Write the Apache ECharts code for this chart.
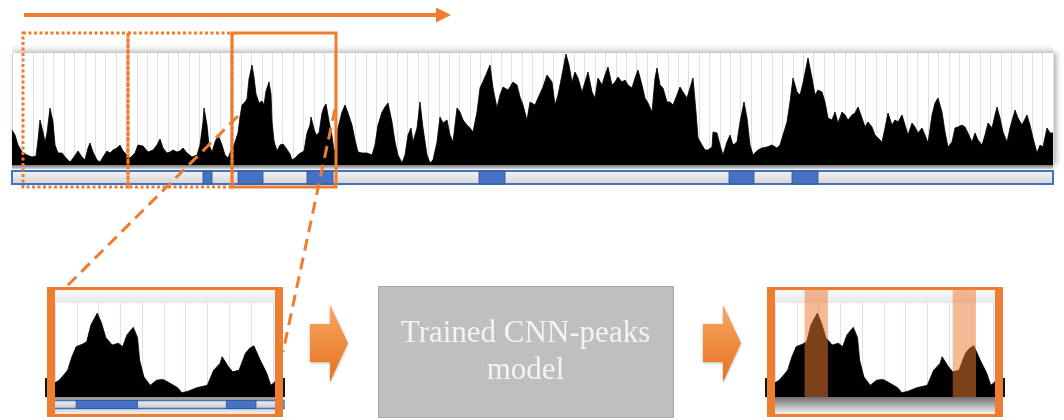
<!DOCTYPE html>
<html><head><meta charset="utf-8">
<script src="https://cdn.jsdelivr.net/npm/echarts@6/dist/echarts.min.js"></script>
<style>html,body{margin:0;padding:0;background:#fff}#c{width:1064px;height:420px}</style>
</head><body><div id="c"></div>
<script>
// signal profile: [position, coverage]
const profile = [
[12,35],[15,30],[18,20],[22,13],[27,10],[32,8],[36,9],[38,25],[40,45],[43,33],
[45,23],[47,32],[50,57],[53,43],[55,20],[58,12],[62,12],[66,7],[70,3],[74,8],
[78,14],[82,8],[85,5],[88,17],[90,22],[93,13],[97,5],[100,3],[103,8],[107,14],
[110,12],[113,15],[117,17],[120,20],[123,14],[127,10],[130,7],[135,12],[138,20],[143,19],
[148,13],[153,15],[157,20],[160,26],[163,17],[167,12],[170,13],[173,15],[177,13],[180,14],
[183,17],[187,12],[192,8],[197,10],[200,20],[203,43],[204,57],[207,40],[209,20],[212,13],
[215,23],[218,30],[222,20],[225,10],[228,7],[232,17],[234,20],[236,26],[238,32],[240,48],
[242,60],[245,63],[247,66],[249,86],[252,100],[254,88],[256,71],[259,62],[262,64],[264,60],
[266,74],[269,83],[271,71],[272,44],[274,24],[277,14],[280,20],[283,21],[286,17],[290,11],
[292,5],[295,7],[299,11],[304,14],[307,32],[310,40],[311,48],[314,36],[316,30],[319,32],
[322,52],[324,58],[326,61],[329,44],[332,29],[334,14],[336,18],[338,37],[342,53],[345,60],
[348,52],[352,40],[355,25],[358,13],[362,12],[367,12],[372,10],[375,20],[378,40],[382,53],
[385,58],[388,62],[392,43],[395,23],[398,10],[402,2],[405,10],[408,30],[411,37],[413,23],
[417,37],[420,63],[423,37],[427,10],[430,2],[433,5],[437,23],[440,48],[443,42],[447,45],
[450,30],[453,23],[457,57],[460,53],[463,45],[467,40],[470,37],[473,33],[477,53],[480,77],
[485,88],[490,100],[493,77],[497,57],[500,70],[503,78],[508,75],[513,83],[517,80],[520,68],
[523,60],[527,45],[530,63],[535,60],[538,67],[543,78],[547,90],[552,83],[555,60],[558,70],
[562,90],[566,111],[569,100],[572,83],[575,93],[578,87],[582,73],[585,83],[588,93],[592,73],
[595,67],[598,87],[602,80],[605,90],[608,98],[612,80],[615,83],[618,88],[622,83],[625,85],
[628,80],[632,77],[635,87],[638,95],[642,80],[645,67],[648,62],[652,53],[655,87],[657,97],
[660,80],[663,77],[667,63],[670,63],[673,60],[677,70],[680,78],[683,73],[687,67],[690,77],
[693,87],[696,53],[698,27],[702,20],[705,15],[708,15],[712,18],[713,33],[717,32],[720,20],
[723,10],[727,23],[730,30],[733,20],[737,23],[740,43],[744,63],[747,47],[750,20],[753,10],
[758,15],[762,17],[767,18],[772,20],[777,17],[780,20],[783,30],[787,43],[790,63],[793,87],
[797,73],[800,70],[803,82],[808,107],[812,87],[815,70],[818,75],[822,73],[825,63],[828,47],
[832,45],[835,53],[838,42],[842,53],[845,50],[848,45],[852,50],[855,52],[858,58],[862,47],
[865,38],[868,43],[872,38],[875,30],[878,27],[882,23],[885,37],[888,52],[892,40],[895,45],
[898,43],[902,50],[905,40],[908,30],[912,42],[915,38],[918,32],[922,37],[925,30],[928,22],
[932,50],[935,62],[938,67],[942,53],[945,33],[948,18],[952,23],[955,37],[958,38],[962,40],
[965,38],[968,32],[972,23],[975,32],[978,25],[982,20],[985,30],[988,42],[992,37],[995,50],
[997,58],[1000,47],[1003,33],[1007,23],[1010,37],[1015,55],[1018,47],[1022,40],[1027,50],[1030,40],
[1033,27],[1037,12],[1040,20],[1043,18],[1047,37],[1050,32],[1053,32]
];
const profileRange = [12, 1053];
const labelledPeaks = [[203,212],[238,263],[307,333],[479,505],[729,754],[792,818]];
// [start, end, dotted?]
const scanWindows = [[23,128,1],[128,232,1],[232,336,0]];
const zoomWindow = [232, 336];
const zoomLabelledPeaks = [[242,271],[313,327]];
const predictedPeaks = [[246,257],[316,327]];
const modelText = ['Trained CNN-peaks', 'model'];

const ORANGE = '#ED7D31', BLUE = '#4472C4', GRIDC = '#DCDCF6';
const chart = echarts.init(document.getElementById('c'));

function dataAxis(grid, range){ return {gridIndex:grid, type:'value', min:range[0], max:range[1], show:false}; }
function gridAxis(grid, max){ return {gridIndex:grid, type:'value', min:0, max:max, interval:1,
  axisLine:{show:false}, axisTick:{show:false}, axisLabel:{show:false},
  splitLine:{show:true, lineStyle:{color:GRIDC, width:1}}}; }
function yAx(grid, max){ return {gridIndex:grid, type:'value', min:0, max:max, show:false}; }
function vgrad(a,b){ return new echarts.graphic.LinearGradient(0,0,0,1,[{offset:0,color:a},{offset:1,color:b}]); }

function blockRender(fill, stroke, lw){
  return function(params, api){
    const a = api.coord([api.value(0), params.context.yTop]);
    const b = api.coord([api.value(1), 0]);
    return {type:'rect', shape:{x:a[0], y:a[1], width:b[0]-a[0], height:b[1]-a[1]},
      style:{fill:fill, stroke:stroke, lineWidth:lw}};
  };
}
function blocks(xi, yi, data, yTop, fill, stroke, lw, z){
  return {type:'custom', xAxisIndex:xi, yAxisIndex:yi, data:data, z:z, silent:true,
    renderItem:function(params, api){
      const a = api.coord([api.value(0), yTop]);
      const b = api.coord([api.value(1), 0]);
      return {type:'rect', shape:{x:a[0], y:a[1], width:b[0]-a[0], height:b[1]-a[1]},
        style:{fill:fill, stroke:stroke, lineWidth:lw}};
    }};
}
function areaSeries(xi, yi){
  return {type:'line', xAxisIndex:xi, yAxisIndex:yi, data:profile, symbol:'none',
    showSymbol:false, clip:true, silent:true, z:2,
    lineStyle:{color:'#000', width:0.8}, areaStyle:{color:'#000', opacity:1}};
}

const arrowPts = function(dx){
  return [[310+dx,324],[330+dx,324],[330+dx,305],[348+dx,343],[330+dx,382],[330+dx,362],[310+dx,362]];
};

const graphics = [
  {type:'rect', z:1, shape:{x:12,y:43,width:1041,height:10}, style:{fill:vgrad('rgba(0,0,0,0)','rgba(0,0,0,0.08)')}},
  {type:'line', z:1, shape:{x1:12.5,y1:53,x2:12.5,y2:165}, style:{stroke:'#F2C4C4', lineWidth:1}},
  {type:'rect', z:3, shape:{x:12,y:165,width:1041,height:4}, style:{fill:vgrad('#7a7a7a','#d6d6d6')}},
  {type:'rect', z:1, shape:{x:12,y:171,width:1041,height:13}, style:{fill:vgrad('#F6F6F6','#D2D2D2'), stroke:BLUE, lineWidth:2}},
  {type:'rect', z:1, shape:{x:55,y:290,width:220,height:13}, style:{fill:vgrad('#F8F8F8','#E8E8E8')}},
  {type:'rect', z:3, shape:{x:55,y:397,width:220,height:3}, style:{fill:'#9a9a9a'}},
  {type:'rect', z:1, shape:{x:55,y:408,width:220,height:7}, style:{fill:vgrad('#D8D8D8','#F2F2F2')}},
  {type:'rect', z:1, shape:{x:52,y:400.5,width:232,height:8}, style:{fill:vgrad('#EEEEEE','#C8C8C8'), stroke:BLUE, lineWidth:1.5}},
  {type:'rect', z:1, shape:{x:775,y:290,width:220,height:13}, style:{fill:vgrad('#F8F8F8','#E8E8E8')}},
  {type:'rect', z:3, shape:{x:775,y:397,width:220,height:17}, style:{fill:vgrad('#707070','#F4F4F4')}},
  {type:'rect', z:9, shape:{x:45,y:378,width:3,height:19}, style:{fill:'#111'}},
  {type:'rect', z:9, shape:{x:282,y:378,width:3,height:19}, style:{fill:'#111'}},
  {type:'rect', z:9, shape:{x:765,y:378,width:3,height:19}, style:{fill:'#111'}},
  {type:'rect', z:9, shape:{x:1002,y:378,width:3,height:19}, style:{fill:'#111'}},
  {type:'rect', z:10, shape:{x:49,y:288.5,width:232,height:127}, style:{fill:'none', stroke:ORANGE, lineWidth:3}},
  {type:'rect', z:10, shape:{x:47,y:287,width:8,height:130}, style:{fill:ORANGE}},
  {type:'rect', z:10, shape:{x:275,y:287,width:8,height:130}, style:{fill:ORANGE}},
  {type:'rect', z:10, shape:{x:769,y:288.5,width:232,height:127}, style:{fill:'none', stroke:ORANGE, lineWidth:3}},
  {type:'rect', z:10, shape:{x:767,y:287,width:8,height:130}, style:{fill:ORANGE}},
  {type:'rect', z:10, shape:{x:995,y:287,width:8,height:130}, style:{fill:ORANGE}},
  {type:'line', z:10, shape:{x1:238,y1:116,x2:64,y2:289}, style:{stroke:ORANGE, lineWidth:3, lineDash:[12,7]}},
  {type:'line', z:10, shape:{x1:335,y1:109,x2:283,y2:352}, style:{stroke:ORANGE, lineWidth:3, lineDash:[12,7]}},
  {type:'line', z:10, shape:{x1:24,y1:15,x2:438,y2:15}, style:{stroke:ORANGE, lineWidth:4}},
  {type:'polygon', z:10, shape:{points:[[436,7.5],[451,15],[436,22.5]]}, style:{fill:ORANGE}},
  {type:'polygon', z:10, shape:{points:arrowPts(0)}, style:{fill:vgrad('#F7A865','#E8701E'), shadowBlur:3, shadowColor:'rgba(0,0,0,0.3)', shadowOffsetY:1}},
  {type:'polygon', z:10, shape:{points:arrowPts(393)}, style:{fill:vgrad('#F7A865','#E8701E'), shadowBlur:3, shadowColor:'rgba(0,0,0,0.3)', shadowOffsetY:1}},
  {type:'rect', z:10, shape:{x:378.5,y:286.5,width:295,height:131}, style:{fill:'#BFBFBF', stroke:'#A6A6A6', lineWidth:1}},
  {type:'text', z:11, style:{text:modelText[0], x:525.5, y:334, fill:'#F4F4F4', fontSize:31, fontFamily:'Liberation Serif',
    align:'center', verticalAlign:'middle', textAlign:'center', textVerticalAlign:'middle'}},
  {type:'text', z:11, style:{text:modelText[1], x:525.5, y:371, fill:'#F4F4F4', fontSize:31, fontFamily:'Liberation Serif',
    align:'center', verticalAlign:'middle', textAlign:'center', textVerticalAlign:'middle'}}
];

const option = {
  animation:false,
  backgroundColor:'#fff',
  grid:[
    {left:12, top:53, width:1041, height:112, show:true, backgroundColor:'#fff', borderWidth:0,
      shadowColor:'rgba(0,0,0,0.35)', shadowBlur:6, shadowOffsetX:3},
    {left:12, top:171, width:1041, height:13},
    {left:12, top:33, width:1041, height:154},
    {left:55, top:290, width:220, height:107},
    {left:55, top:400.5, width:220, height:8},
    {left:775, top:290, width:220, height:107}
  ],
  xAxis:[
    dataAxis(0, profileRange), gridAxis(0, 100),
    dataAxis(1, profileRange), dataAxis(2, profileRange),
    dataAxis(3, zoomWindow), gridAxis(3, 10.1),
    dataAxis(4, zoomWindow),
    dataAxis(5, zoomWindow), gridAxis(5, 10.1)
  ],
  yAxis:[ yAx(0,112), yAx(1,1), yAx(2,1), yAx(3,127.5), yAx(4,1), yAx(5,127.5) ],
  series:[
    areaSeries(0, 0),
    blocks(2, 1, labelledPeaks, 1, BLUE, '#2F528F', 0.8, 3),
    {type:'custom', xAxisIndex:3, yAxisIndex:2, data:scanWindows, z:5, silent:true,
      renderItem:function(params, api){
        const a = api.coord([api.value(0), 1]);
        const b = api.coord([api.value(1), 0]);
        const dotted = api.value(2) === 1;
        return {type:'rect', shape:{x:a[0], y:a[1], width:b[0]-a[0], height:b[1]-a[1]},
          style:{fill:'none', stroke:ORANGE, lineWidth:3, lineDash: dotted ? [3,2.5] : null}};
      }},
    areaSeries(4, 3),
    blocks(6, 4, zoomLabelledPeaks, 1, BLUE, '#2F528F', 0.8, 3),
    areaSeries(7, 5),
    blocks(7, 5, predictedPeaks, 127.5, 'rgba(237,125,49,0.52)', null, 0, 4)
  ],
  graphic:{elements:graphics}
};
chart.setOption(option);
</script></body></html>
